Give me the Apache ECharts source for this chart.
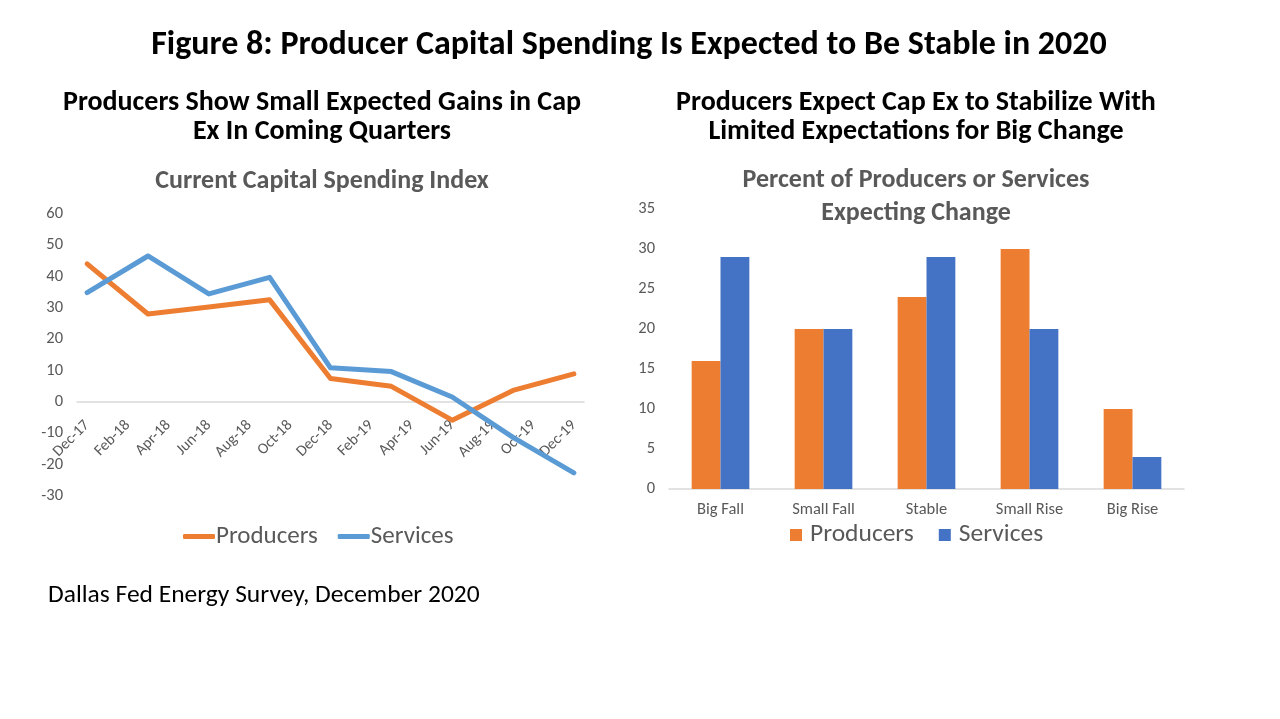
<!DOCTYPE html>
<html>
<head>
<meta charset="utf-8">
<script src="https://cdn.jsdelivr.net/npm/echarts@6/dist/echarts.min.js"></script>
<style>
html,body{margin:0;padding:0;background:#fff;}
#main{width:1280px;height:719px;}
</style>
</head>
<body>
<div id="main"></div>
<script>
// ---- Data ----
const months = ['Dec-17','Jan-18','Feb-18','Mar-18','Apr-18','May-18','Jun-18','Jul-18','Aug-18','Sep-18','Oct-18','Nov-18','Dec-18',
                'Jan-19','Feb-19','Mar-19','Apr-19','May-19','Jun-19','Jul-19','Aug-19','Sep-19','Oct-19','Nov-19','Dec-19'];
const quarters = ['Dec-17','Mar-18','Jun-18','Sep-18','Dec-18','Mar-19','Jun-19','Sep-19','Dec-19'];
const producersIndex = [44.1, 28.1, 30.3, 32.6, 7.5, 5.0, -5.8, 3.7, 9.0];
const servicesIndex  = [34.9, 46.6, 34.5, 39.8, 10.9, 9.7, 1.6, -11.3, -22.6];
const indexMin = -30, indexMax = 60;

const changeCats = ['Big Fall','Small Fall','Stable','Small Rise','Big Rise'];
const producersPct = [16, 20, 24, 30, 10];
const servicesPct  = [29, 20, 29, 20, 4];

// ---- Styles ----
const FONT = "Carlito, 'Liberation Sans Narrow', 'Open Sans', sans-serif";
const GRAY = '#595959';
const ORANGE = '#ED7D31';
const LBLUE = '#5B9BD5';
const DBLUE = '#4472C4';

const chart = echarts.init(document.getElementById('main'), null, {renderer:'canvas'});

const leftGridHeight = 282;
const zeroOffset = leftGridHeight * (0 - indexMin) / (indexMax - indexMin);

const option = {
  backgroundColor: '#fff',
  animation: false,
  title: [
    {text: 'Figure 8: Producer Capital Spending Is Expected to Be Stable in 2020', left: 624, top: 23, textAlign: 'center',
     textStyle: {fontFamily: FONT, fontSize: 34, fontWeight: 'bold', color: '#000'}},
    {text: 'Producers Show Small Expected Gains in Cap\nEx In Coming Quarters', left: 317, top: 83, textAlign: 'center',
     textStyle: {fontFamily: FONT, fontSize: 28, fontWeight: 'bold', color: '#000', lineHeight: 29}},
    {text: 'Producers Expect Cap Ex to Stabilize With\nLimited Expectations for Big Change', left: 911, top: 83, textAlign: 'center',
     textStyle: {fontFamily: FONT, fontSize: 28, fontWeight: 'bold', color: '#000', lineHeight: 29}},
    {text: 'Current Capital Spending Index', left: 317, top: 163, textAlign: 'center',
     textStyle: {fontFamily: FONT, fontSize: 26, fontWeight: 'bold', color: GRAY}},
    {text: 'Percent of Producers or Services\nExpecting Change', left: 911, top: 159, textAlign: 'center',
     textStyle: {fontFamily: FONT, fontSize: 26, fontWeight: 'bold', color: GRAY, lineHeight: 33}},
    {text: 'Dallas Fed Energy Survey, December 2020', left: 43, top: 578,
     textStyle: {fontFamily: FONT, fontSize: 25.5, fontWeight: 'normal', color: '#000'}}
  ],
  legend: [
    {data: ['Producers','Services'], left: 178, top: 519, icon: 'roundRect', itemWidth: 32, itemHeight: 5, itemGap: 20,
     textStyle: {fontFamily: FONT, fontSize: 25, color: GRAY, padding: [0,0,0,-4]}, selectedMode: false},
    {data: [{name:'Producers', itemStyle:{color: ORANGE}}, {name:'Services', itemStyle:{color: DBLUE}}],
     left: 785, top: 517, icon: 'rect', itemWidth: 12, itemHeight: 12, itemGap: 25,
     textStyle: {fontFamily: FONT, fontSize: 25.5, color: GRAY, padding: [0,0,0,3]}, selectedMode: false}
  ],
  grid: [
    {left: 77, top: 214, width: 507, height: leftGridHeight, containLabel: false},
    {left: 669, top: 209, width: 515, height: 280, containLabel: false}
  ],
  xAxis: [
    {gridIndex: 0, type: 'category', data: months, boundaryGap: true, position: 'bottom',
     offset: -zeroOffset,
     axisLine: {onZero: false, lineStyle: {color: '#d9d9d9', width: 1.5}},
     axisTick: {show: false},
     axisLabel: {interval: 1, rotate: 45, margin: 21, fontFamily: FONT, fontSize: 15.5, color: GRAY}},
    {gridIndex: 1, type: 'category', data: changeCats,
     axisLine: {lineStyle: {color: '#d9d9d9', width: 1.5}},
     axisTick: {show: false},
     axisLabel: {margin: 12, fontFamily: FONT, fontSize: 16.5, color: GRAY}}
  ],
  yAxis: [
    {gridIndex: 0, type: 'value', min: indexMin, max: indexMax, interval: 10,
     axisLine: {show: false}, axisTick: {show: false}, splitLine: {show: false},
     axisLabel: {margin: 14, fontFamily: FONT, fontSize: 16.5, color: GRAY}},
    {gridIndex: 1, type: 'value', min: 0, max: 35, interval: 5,
     axisLine: {show: false}, axisTick: {show: false}, splitLine: {show: false},
     axisLabel: {margin: 14, fontFamily: FONT, fontSize: 16.5, color: GRAY}}
  ],
  series: [
    {name: 'Producers', type: 'line', xAxisIndex: 0, yAxisIndex: 0,
     data: quarters.map((q,i)=>[q, producersIndex[i]]), showSymbol: false, symbol: 'none',
     color: ORANGE, lineStyle: {width: 5, color: ORANGE, cap: 'round', join: 'round'}, z: 3},
    {name: 'Services', type: 'line', xAxisIndex: 0, yAxisIndex: 0,
     data: quarters.map((q,i)=>[q, servicesIndex[i]]), showSymbol: false, symbol: 'none',
     color: LBLUE, lineStyle: {width: 5, color: LBLUE, cap: 'round', join: 'round'}, z: 4},
    {name: 'Producers', type: 'bar', xAxisIndex: 1, yAxisIndex: 1, data: producersPct,
     itemStyle: {color: ORANGE}, barGap: '0%', barCategoryGap: '44%'},
    {name: 'Services', type: 'bar', xAxisIndex: 1, yAxisIndex: 1, data: servicesPct,
     itemStyle: {color: DBLUE}, barGap: '0%', barCategoryGap: '44%'}
  ]
};
chart.setOption(option);
</script>
</body>
</html>
